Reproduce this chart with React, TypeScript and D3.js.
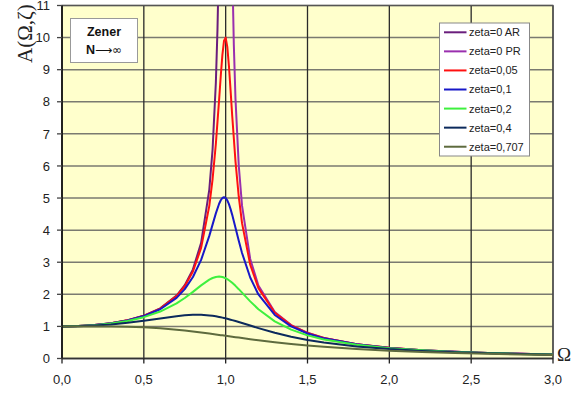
import React from "react";
import * as d3 from "d3";

// ---- data ----
const OMEGA = [0, 0.1, 0.2, 0.3, 0.4, 0.5, 0.6, 0.7, 0.75, 0.8, 0.85, 0.9, 0.92, 0.94, 0.96, 0.97, 0.98, 0.99, 1.0, 1.01, 1.02, 1.03, 1.04, 1.06, 1.08, 1.1, 1.15, 1.2, 1.3, 1.4, 1.5, 1.6, 1.8, 2.0, 2.2, 2.4, 2.6, 2.8, 3.0];

const ZETA_005 = [1, 1.010, 1.041, 1.098, 1.189, 1.330, 1.556, 1.943, 2.253, 2.712, 3.446, 4.757, 5.585, 6.684, 8.068, 8.804, 9.461, 9.903, 10.0, 9.711, 9.115, 8.357, 7.565, 6.141, 5.041, 4.218, 2.921, 2.193, 1.424, 1.031, 0.794, 0.638, 0.445, 0.333, 0.260, 0.210, 0.173, 0.146, 0.125];
const ZETA_01 = [1, 1.010, 1.041, 1.097, 1.185, 1.322, 1.536, 1.891, 2.162, 2.538, 3.073, 3.821, 4.172, 4.523, 4.822, 4.931, 5.001, 5.025, 5.0, 4.926, 4.809, 4.655, 4.476, 4.075, 3.668, 3.288, 2.525, 1.995, 1.356, 1.0, 0.778, 0.628, 0.441, 0.330, 0.259, 0.209, 0.173, 0.146, 0.125];
const ZETA_02 = [1, 1.009, 1.038, 1.090, 1.170, 1.288, 1.463, 1.719, 1.885, 2.076, 2.279, 2.457, 2.508, 2.541, 2.552, 2.548, 2.538, 2.522, 2.5, 2.472, 2.439, 2.401, 2.359, 2.264, 2.160, 2.051, 1.780, 1.536, 1.157, 0.900, 0.721, 0.593, 0.425, 0.322, 0.254, 0.206, 0.171, 0.144, 0.124];
const ZETA_04 = [1, 1.007, 1.028, 1.063, 1.113, 1.176, 1.25, 1.320, 1.347, 1.362, 1.362, 1.343, 1.330, 1.314, 1.295, 1.285, 1.274, 1.262, 1.25, 1.237, 1.224, 1.210, 1.196, 1.167, 1.137, 1.105, 1.026, 0.947, 0.801, 0.678, 0.577, 0.496, 0.376, 0.294, 0.237, 0.195, 0.163, 0.139, 0.120];
const ZETA_0707 = [1, 1.0, 0.999, 0.996, 0.987, 0.970, 0.941, 0.898, 0.872, 0.842, 0.811, 0.777, 0.763, 0.749, 0.735, 0.728, 0.721, 0.714, 0.707, 0.700, 0.693, 0.686, 0.679, 0.665, 0.651, 0.637, 0.603, 0.570, 0.509, 0.455, 0.406, 0.364, 0.295, 0.243, 0.202, 0.171, 0.146, 0.127, 0.110];

const AR_OMEGA = [0, 0.1, 0.2, 0.3, 0.4, 0.5, 0.6, 0.7, 0.75, 0.8, 0.85, 0.9, 0.92, 0.94, 0.95, 0.96];
const AR_VALUES = [1, 1.010, 1.042, 1.099, 1.190, 1.333, 1.563, 1.961, 2.286, 2.778, 3.604, 5.263, 6.510, 8.591, 10.256, 12.755];
const PR_OMEGA = [1.04, 1.05, 1.06, 1.08, 1.1, 1.15, 1.2, 1.3, 1.4, 1.5, 1.6, 1.8, 2.0, 2.2, 2.4, 2.6, 2.8, 3.0];
const PR_VALUES = [12.255, 9.756, 8.090, 6.010, 4.762, 3.101, 2.273, 1.449, 1.042, 0.8, 0.641, 0.446, 0.333, 0.260, 0.210, 0.174, 0.146, 0.125];

const SERIES_NAMES = ["zeta=0 AR", "zeta=0 PR", "zeta=0,05", "zeta=0,1", "zeta=0,2", "zeta=0,4", "zeta=0,707"];
const SERIES_COLORS = ["#6a1e7c", "#9a2fae", "#ff1010", "#1818c8", "#3ef03e", "#0c2a5c", "#5e6b3e"];

const X_TICKS = [0, 0.5, 1.0, 1.5, 2.0, 2.5, 3.0];
const Y_TICKS = [0, 1, 2, 3, 4, 5, 6, 7, 8, 9, 10, 11];

export default function App() {
  const W = 585, H = 396;
  const L = 62, R = 553, T = 5.5, B = 358.5;
  const x = d3.scaleLinear().domain([0, 3]).range([L, R]);
  const y = d3.scaleLinear().domain([0, 11]).range([B, T]);
  const line = d3.line<[number, number]>().x(d => x(d[0])).y(d => y(d[1]));

  const series: [number, number][][] = [
    AR_OMEGA.map((w, i) => [w, AR_VALUES[i]]),
    PR_OMEGA.map((w, i) => [w, PR_VALUES[i]]),
    OMEGA.map((w, i) => [w, ZETA_005[i]]),
    OMEGA.map((w, i) => [w, ZETA_01[i]]),
    OMEGA.map((w, i) => [w, ZETA_02[i]]),
    OMEGA.map((w, i) => [w, ZETA_04[i]]),
    OMEGA.map((w, i) => [w, ZETA_0707[i]]),
  ];

  const fmt = (v: number) => v.toFixed(1).replace(".", ",");

  return (
    <svg width={W} height={H} style={{ position: "absolute", left: 0, top: 0, background: "#fff" }}
      fontFamily="'Liberation Sans', Arial, sans-serif">
      <defs>
        <clipPath id="plot">
          <rect x={L} y={T} width={R - L} height={B - T} />
        </clipPath>
      </defs>
      <rect x={L} y={T} width={R - L} height={B - T} fill="#ffffcc" />
      {Y_TICKS.map(t => (
        <line key={"gy" + t} x1={L} x2={R} y1={y(t)} y2={y(t)} stroke="#7a7a70" strokeWidth={1.5} />
      ))}
      {X_TICKS.map(t => (
        <line key={"gx" + t} x1={x(t)} x2={x(t)} y1={T} y2={B} stroke="#2a2a2a" strokeWidth={1.3} />
      ))}
      <rect x={L} y={T} width={R - L} height={B - T} fill="none" stroke="#555" strokeWidth={1.3} />
      <g clipPath="url(#plot)">
        {series.map((s, i) => (
          <path key={i} d={line(s) || ""} fill="none" stroke={SERIES_COLORS[i]} strokeWidth={2} strokeLinejoin="round" />
        ))}
      </g>
      {/* axes */}
      <line x1={L} x2={L} y1={T} y2={B} stroke="#000" strokeWidth={1.3} />
      <line x1={L} x2={R} y1={B} y2={B} stroke="#333" strokeWidth={1.3} />
      {Y_TICKS.map(t => (
        <g key={"ty" + t}>
          <line x1={L - 5} x2={L} y1={y(t)} y2={y(t)} stroke="#444" strokeWidth={1.3} />
          <text x={L - 12} y={y(t)} dy="0.36em" textAnchor="end" fontSize={13} fill="#222">{t}</text>
        </g>
      ))}
      {X_TICKS.map(t => (
        <g key={"tx" + t}>
          <line x1={x(t)} x2={x(t)} y1={B} y2={B + 5} stroke="#222" strokeWidth={1.3} />
          <text x={x(t)} y={384} textAnchor="middle" fontSize={13} fill="#222">{fmt(t)}</text>
        </g>
      ))}
      {/* axis titles */}
      <text transform="translate(32,63) rotate(-90)" fontFamily="'Liberation Serif', 'Times New Roman', serif" fontSize={21} fill="#222">A(Ω,ζ)</text>
      <text x={557} y={361} fontFamily="'Liberation Serif', 'Times New Roman', serif" fontSize={19} fill="#222">Ω</text>
      {/* Zener box */}
      <rect x={70.5} y={18.5} width={67} height={44} fill="#fff" stroke="#999" strokeWidth={1} />
      <text x={104} y={35.5} textAnchor="middle" fontSize={12.5} fontWeight="bold" fill="#111">Zener</text>
      <text x={104} y={54} textAnchor="middle" fontSize={12.5} fill="#111">
        <tspan fontWeight="bold">N</tspan><tspan fontFamily="'DejaVu Sans', sans-serif" fontSize={12}>⟶∞</tspan>
      </text>
      {/* legend */}
      <rect x={439.5} y={23} width={90} height={133} fill="#fff" stroke="#888" strokeWidth={1} />
      {SERIES_NAMES.map((n, i) => {
        const ly = 32.3 + i * 19.07;
        return (
          <g key={n}>
            <line x1={444} x2={466.5} y1={ly} y2={ly} stroke={SERIES_COLORS[i]} strokeWidth={2} />
            <text x={469} y={ly} dy="0.36em" fontSize={11} fill="#222">{n}</text>
          </g>
        );
      })}
    </svg>
  );
}
